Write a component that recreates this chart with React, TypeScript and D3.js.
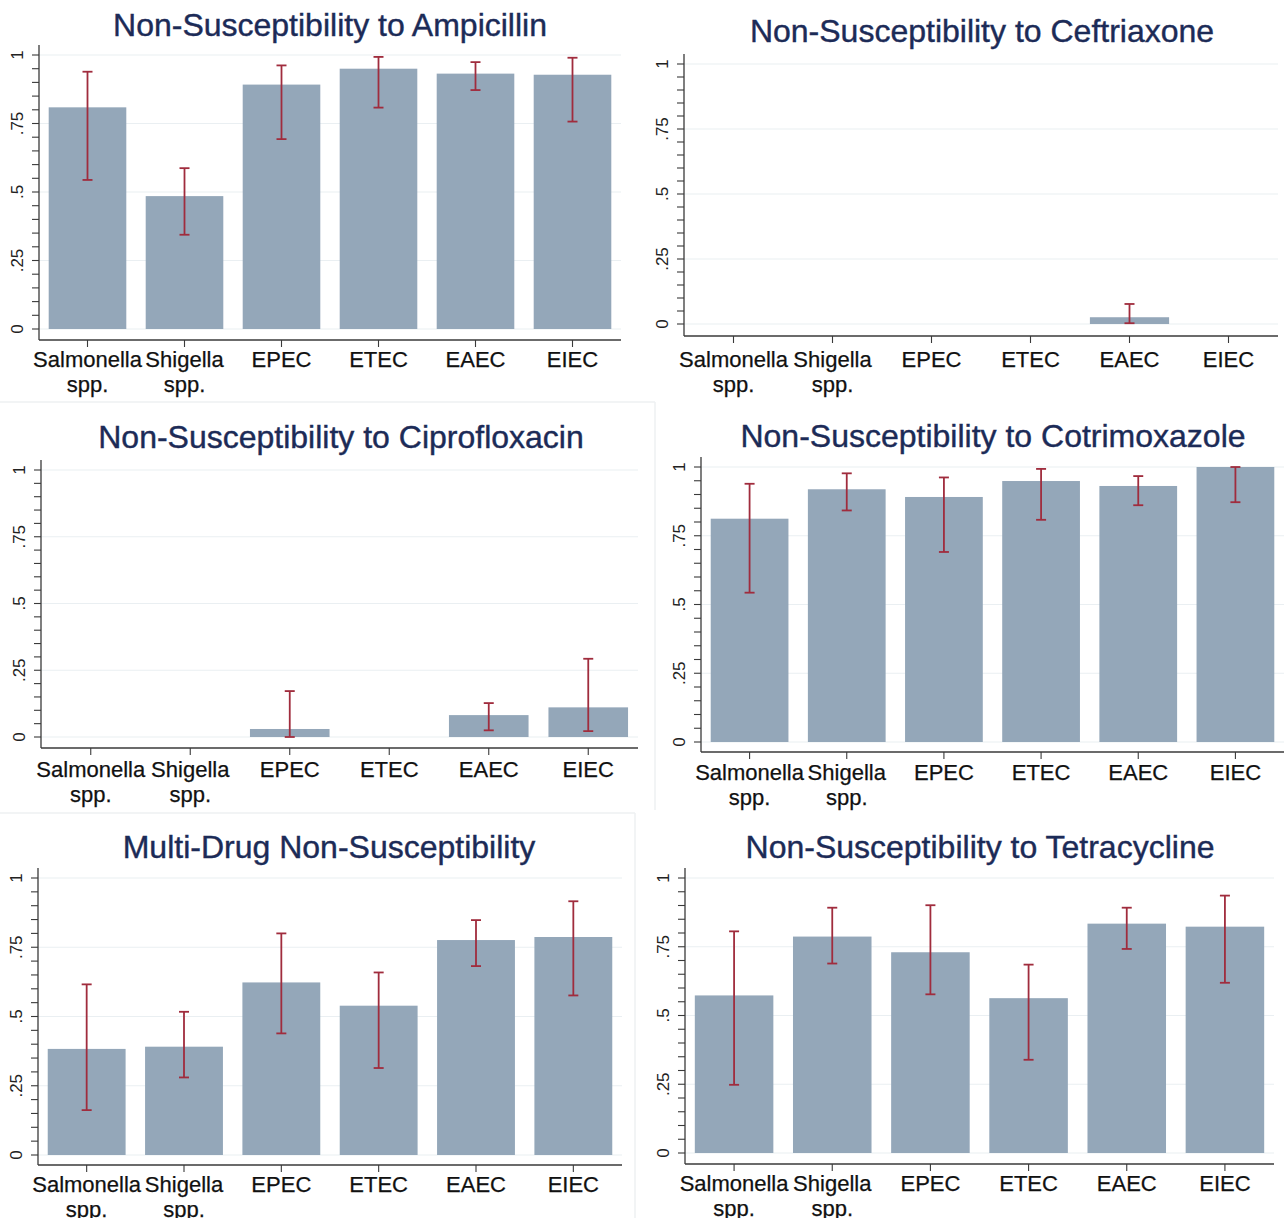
import React from "react";
import * as d3 from "d3";

// categories shown on every panel (two-line labels)
const categories = ["Salmonella spp.", "Shigella spp.", "EPEC", "ETEC", "EAEC", "EIEC"];
const labelLines = [["Salmonella", "spp."], ["Shigella", "spp."], ["EPEC"], ["ETEC"], ["EAEC"], ["EIEC"]];
const yTicks = [0, 0.25, 0.5, 0.75, 1];
const yTickLabels = ["0", ".25", ".5", ".75", "1"];

// proportion non-susceptible, with 95% CI (null = no bar / no CI)
const ampicillin = [0.809, 0.485, 0.892, 0.95, 0.932, 0.928];
const ampicillinLo = [0.544, 0.344, 0.693, 0.808, 0.872, 0.757];
const ampicillinHi = [0.939, 0.587, 0.962, 0.993, 0.974, 0.99];

const ceftriaxone = [0, 0, 0, 0, 0.026, 0];
const ceftriaxoneLo = [null, null, null, null, 0.003, null];
const ceftriaxoneHi = [null, null, null, null, 0.077, null];

const ciprofloxacin = [0, 0, 0.03, 0, 0.082, 0.111];
const ciprofloxacinLo = [null, null, 0.0, null, 0.025, 0.022];
const ciprofloxacinHi = [null, null, 0.172, null, 0.127, 0.293];

const cotrimoxazole = [0.812, 0.919, 0.891, 0.949, 0.931, 1.0];
const cotrimoxazoleLo = [0.543, 0.842, 0.691, 0.808, 0.861, 0.872];
const cotrimoxazoleHi = [0.939, 0.977, 0.962, 0.993, 0.967, 1.0];

const multiDrug = [0.383, 0.391, 0.623, 0.539, 0.776, 0.787];
const multiDrugLo = [0.162, 0.28, 0.439, 0.314, 0.682, 0.576];
const multiDrugHi = [0.616, 0.517, 0.8, 0.659, 0.848, 0.916];

const tetracycline = [0.573, 0.787, 0.73, 0.563, 0.834, 0.823];
const tetracyclineLo = [0.248, 0.689, 0.577, 0.339, 0.742, 0.619];
const tetracyclineHi = [0.806, 0.892, 0.901, 0.685, 0.892, 0.936];

// each sub-chart sits where it was pasted in the original composite
const panels = [
  { title: "Non-Susceptibility to Ampicillin", v: ampicillin, lo: ampicillinLo, hi: ampicillinHi,
    x0: 39, x1: 621, y0: 329, y1: 55, axisY: 340, titleX: 330, titleY: 36, labelY: 367 },
  { title: "Non-Susceptibility to Ceftriaxone", v: ceftriaxone, lo: ceftriaxoneLo, hi: ceftriaxoneHi,
    x0: 684, x1: 1278, y0: 324, y1: 64, axisY: 336, titleX: 982, titleY: 42, labelY: 367 },
  { title: "Non-Susceptibility to Ciprofloxacin", v: ciprofloxacin, lo: ciprofloxacinLo, hi: ciprofloxacinHi,
    x0: 41, x1: 638, y0: 737, y1: 470, axisY: 748, titleX: 341, titleY: 448, labelY: 777 },
  { title: "Non-Susceptibility to Cotrimoxazole", v: cotrimoxazole, lo: cotrimoxazoleLo, hi: cotrimoxazoleHi,
    x0: 701, x1: 1284, y0: 742, y1: 467, axisY: 752, titleX: 993, titleY: 447, labelY: 780 },
  { title: "Multi-Drug Non-Susceptibility", v: multiDrug, lo: multiDrugLo, hi: multiDrugHi,
    x0: 38, x1: 622, y0: 1155, y1: 878, axisY: 1165, titleX: 329, titleY: 858, labelY: 1192 },
  { title: "Non-Susceptibility to Tetracycline", v: tetracycline, lo: tetracyclineLo, hi: tetracyclineHi,
    x0: 685, x1: 1274, y0: 1153, y1: 878, axisY: 1164, titleX: 980, titleY: 858, labelY: 1191 },
];

const BAR = "#94a7b9";
const ERR = "#a02c3d";
const TITLE = "#1c2b57";
const GRID = "#eaeff2";
const AXIS = "#3a3a3a";
const FONT = "'Liberation Sans', Arial, Helvetica, sans-serif";

const Panel = ({ p }) => {
  const x = d3.scaleBand().domain(categories).range([p.x0, p.x1]).paddingInner(0.2).paddingOuter(0.1);
  const y = d3.scaleLinear().domain([0, 1]).range([p.y0, p.y1]);
  const minor = d3.range(0, 1.0001, 0.05);
  const bw = x.bandwidth();

  return (
    <g>
      {/* gridlines */}
      {yTicks.map((t) => (
        <line key={"g" + t} x1={p.x0} x2={p.x1} y1={y(t)} y2={y(t)} stroke={GRID} strokeWidth={1.2} />
      ))}

      {/* bars */}
      {categories.map((c, i) =>
        p.v[i] > 0 ? (
          <rect key={"b" + c} x={x(c)} width={bw} y={y(p.v[i])} height={y(0) - y(p.v[i])} fill={BAR} />
        ) : null
      )}

      {/* CIs */}
      {categories.map((c, i) => {
        if (p.lo[i] == null) return null;
        const cx = x(c) + bw / 2;
        return (
          <g key={"e" + c} stroke={ERR} strokeWidth={1.8}>
            <line x1={cx} x2={cx} y1={y(p.lo[i])} y2={y(p.hi[i])} />
            <line x1={cx - 5} x2={cx + 5} y1={y(p.lo[i])} y2={y(p.lo[i])} />
            <line x1={cx - 5} x2={cx + 5} y1={y(p.hi[i])} y2={y(p.hi[i])} />
          </g>
        );
      })}

      {/* y axis */}
      <line x1={p.x0} x2={p.x0} y1={p.y1 - 10} y2={p.axisY} stroke={AXIS} strokeWidth={1.3} />
      {minor.map((t) => (
        <line key={"m" + t} x1={p.x0 - 7} x2={p.x0} y1={y(t)} y2={y(t)} stroke={AXIS} strokeWidth={1.1} />
      ))}
      {yTicks.map((t, i) => (
        <text key={"yl" + t} transform={`translate(${p.x0 - 16},${y(t)}) rotate(-90)`} textAnchor="middle"
          fontSize={17} fill="#222" fontFamily={FONT}>{yTickLabels[i]}</text>
      ))}

      {/* x axis */}
      <line x1={p.x0} x2={p.x1} y1={p.axisY} y2={p.axisY} stroke={AXIS} strokeWidth={1.3} />
      {categories.map((c, i) => {
        const cx = x(c) + bw / 2;
        return (
          <g key={"x" + c}>
            <line x1={cx} x2={cx} y1={p.axisY} y2={p.axisY + 7} stroke={AXIS} strokeWidth={1.1} />
            {labelLines[i].map((s, j) => (
              <text key={s} x={cx} y={p.labelY + j * 25} textAnchor="middle" fontSize={22} fill="#111"
                stroke="#111" strokeWidth={0.25} fontFamily={FONT}>{s}</text>
            ))}
          </g>
        );
      })}

      <text x={p.titleX} y={p.titleY} textAnchor="middle" fontSize={32} fill={TITLE} stroke={TITLE}
        strokeWidth={0.4} fontFamily={FONT}>{p.title}</text>
    </g>
  );
};

export default function App() {
  return (
    <svg width={1285} height={1218} style={{ position: "absolute", left: 0, top: 0, background: "#fff" }}>
      <rect width={1285} height={1218} fill="#fff" />
      {/* faint edges of the pasted sub-images */}
      <g stroke="#eef1f2" strokeWidth={1.5}>
        <line x1={0} x2={655} y1={402} y2={402} />
        <line x1={655} x2={655} y1={402} y2={810} />
        <line x1={0} x2={635} y1={813} y2={813} />
        <line x1={635} x2={635} y1={813} y2={1218} />
      </g>
      {panels.map((p) => (
        <Panel key={p.title} p={p} />
      ))}
    </svg>
  );
}
